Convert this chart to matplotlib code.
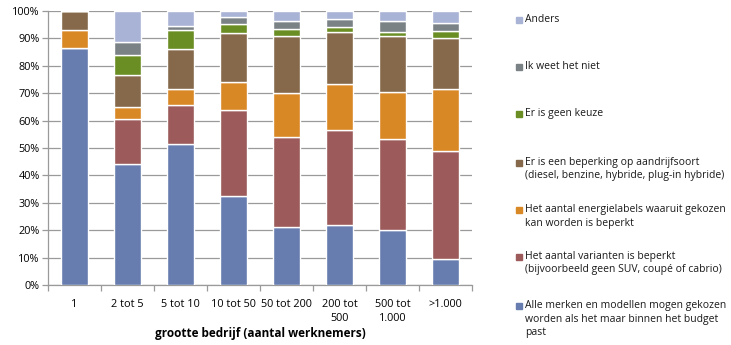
import matplotlib
matplotlib.use("Agg")
import matplotlib.pyplot as plt
from matplotlib.patches import Rectangle
import numpy as np

plt.rcParams['font.family'] = ['Open Sans', 'DejaVu Sans']

categories = ["1", "2 tot 5", "5 tot 10", "10 tot 50", "50 tot 200",
              "200 tot\n500", "500 tot\n1.000", ">1.000"]

alle_merken = [86.5, 44.3, 51.3, 32.4, 21.1, 22.0, 20.1, 9.7]
varianten = [0.0, 16.1, 14.5, 31.6, 32.9, 34.6, 33.2, 39.2]
energielabels = [6.6, 4.5, 5.6, 10.0, 15.9, 16.7, 17.1, 22.6]
aandrijfsoort = [6.9, 11.6, 14.5, 17.9, 20.8, 18.9, 20.5, 18.4]
geen_keuze = [0.0, 7.2, 6.9, 3.2, 2.5, 1.9, 1.3, 2.7]
weet_niet = [0.0, 4.8, 1.5, 2.7, 3.0, 3.0, 4.2, 3.0]
anders = [0.0, 11.5, 5.7, 2.2, 3.8, 2.9, 3.6, 4.4]

series = [
    ("Alle merken en modellen mogen gekozen\nworden als het maar binnen het budget\npast", alle_merken, "#677CAF"),
    ("Het aantal varianten is beperkt\n(bijvoorbeeld geen SUV, coupé of cabrio)", varianten, "#9C5A5A"),
    ("Het aantal energielabels waaruit gekozen\nkan worden is beperkt", energielabels, "#D98826"),
    ("Er is een beperking op aandrijfsoort\n(diesel, benzine, hybride, plug-in hybride)", aandrijfsoort, "#86694B"),
    ("Er is geen keuze", geen_keuze, "#6A8D24"),
    ("Ik weet het niet", weet_niet, "#7A8286"),
    ("Anders", anders, "#A8B3D5"),
]

fig = plt.figure(figsize=(7.31, 3.45), dpi=100)
ax = fig.add_axes([0.0657, 0.173, 0.58, 0.796])

x = np.arange(len(categories))
bottom = np.zeros(len(categories))
for label, vals, color in series:
    vals = np.array(vals)
    ax.bar(x, vals, bottom=bottom, width=0.5, color=color,
           edgecolor="white", linewidth=1.0, zorder=3)
    bottom += vals

ax.set_xlim(-0.5, len(categories) - 0.5)
ax.set_ylim(0, 100)
ax.set_yticks(np.arange(0, 101, 10))
ax.set_yticklabels([f"{v}%" for v in range(0, 101, 10)], fontsize=7.8)
ax.yaxis.grid(True, color="#9a9a9a", linewidth=0.9, zorder=0)
ax.set_axisbelow(True)

ax.set_xticks(x)
ax.set_xticklabels(categories, fontsize=7.8, linespacing=1.35)
ax.tick_params(axis="x", length=0, pad=10)
ax.set_xticks(np.arange(-0.5, len(categories) + 0.5, 1), minor=True)
ax.tick_params(axis="x", which="minor", length=4, color="#9a9a9a", width=0.9)
ax.tick_params(axis="y", length=4, color="#9a9a9a", width=0.9, pad=2)

for side in ["top", "right"]:
    ax.spines[side].set_visible(False)
for side in ["left", "bottom"]:
    ax.spines[side].set_color("#9a9a9a")
    ax.spines[side].set_linewidth(0.9)

ax.set_xlabel("grootte bedrijf (aantal werknemers)", fontsize=8.5,
              fontweight="bold", labelpad=2)

# legend drawn as a column of swatches and labels, top entry first
legend_y = [20, 66.7, 114.3, 162.7, 210, 256.7, 306]
W, H = 731.0, 345.0
for (label, vals, color), ypx in zip(reversed(series), legend_y):
    fig.patches.append(Rectangle((516 / W, 1 - (ypx + 3) / H), 6 / W, 6 / H,
                                 transform=fig.transFigure, color=color))
    fig.text(525 / W, 1 - (ypx - 6) / H, label, fontsize=7.5, va="top",
             ha="left", linespacing=1.34, color="#1a1a1a")

fig.savefig("out.png", dpi=100)
